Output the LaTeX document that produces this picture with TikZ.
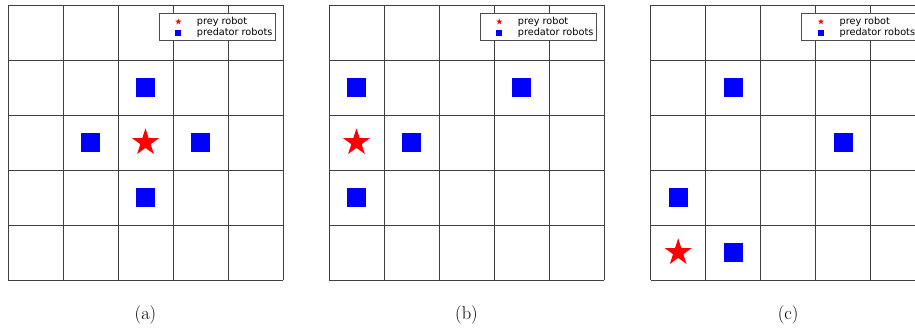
\documentclass[tikz,border=0pt]{standalone}
\usepackage{fontspec}
\newfontfamily\legfont{DejaVu Sans}
\usetikzlibrary{shapes.geometric}
\newcommand{\drawpanel}[2]{%
  \foreach \i in {0,...,5} {
    \draw[gridline] (\i*55,0) -- (\i*55,275);
    \draw[gridline] (0,\i*55) -- (275,\i*55);
  }
  \node[legbox] (#1leg) at (209,21.65) {};
  \node[legprey] (#1legstar) at (170.3,16.7) {};
  \node[legpred] (#1legsq) at (170,28.3) {};
  \node[legtext] (#1legt1) at (188.7,16.7) {prey robot};
  \node[legtext] (#1legt2) at (188.7,28.3) {predator robots};
  \node[caption] (#1cap) at (137.5,310) {(#2)};
}
\begin{document}
\begin{tikzpicture}[x=1pt,y=-1pt,
  gridline/.style={draw=black!75, line width=0.75pt},
  pred/.style={rectangle, fill=blue, draw=none, minimum size=19.4pt, inner sep=0pt},
  prey/.style={star, star points=5, star point ratio=2.618, minimum size=28.4pt, fill=red, draw=none, inner sep=0pt},
  legpred/.style={rectangle, fill=blue, draw=none, minimum size=6pt, inner sep=0pt},
  legprey/.style={star, star points=5, star point ratio=2.618, minimum size=6.5pt, fill=red, draw=none, inner sep=0pt},
  legbox/.style={rectangle, draw=black!70, line width=0.6pt, fill=white, minimum width=116pt, minimum height=26.7pt, inner sep=0pt},
  legtext/.style={anchor=west, inner sep=0pt, font=\legfont\fontsize{9.7}{11}\selectfont},
  caption/.style={inner sep=0pt, font=\fontsize{18.5}{22}\selectfont}]
\useasboundingbox (0,0) rectangle (915,327);
\clip (0,0) rectangle (915,327);
\fill[white] (0,0) rectangle (915,327);
% panel (a)
\begin{scope}[shift={(8,5)}]
  \drawpanel{A}{a}
  \node[pred] (A1) at (137.5,82.5) {};
  \node[pred] (A2) at (82.5,137.5) {};
  \node[pred] (A3) at (192.5,137.5) {};
  \node[pred] (A4) at (137.5,192.5) {};
  \node[prey] (Aprey) at (137.5,137.5) {};
\end{scope}
% panel (b)
\begin{scope}[shift={(329,5)}]
  \drawpanel{B}{b}
  \node[pred] (B1) at (27.5,82.5) {};
  \node[pred] (B2) at (192.5,82.5) {};
  \node[pred] (B3) at (82.5,137.5) {};
  \node[pred] (B4) at (27.5,192.5) {};
  \node[prey] (Bprey) at (27.5,137.5) {};
\end{scope}
% panel (c)
\begin{scope}[shift={(650.7,5)}]
  \drawpanel{C}{c}
  \node[pred] (C1) at (82.5,82.5) {};
  \node[pred] (C2) at (192.5,137.5) {};
  \node[pred] (C3) at (27.5,192.5) {};
  \node[pred] (C4) at (82.5,247.5) {};
  \node[prey] (Cprey) at (27.5,247.5) {};
\end{scope}
\end{tikzpicture}
\end{document}
